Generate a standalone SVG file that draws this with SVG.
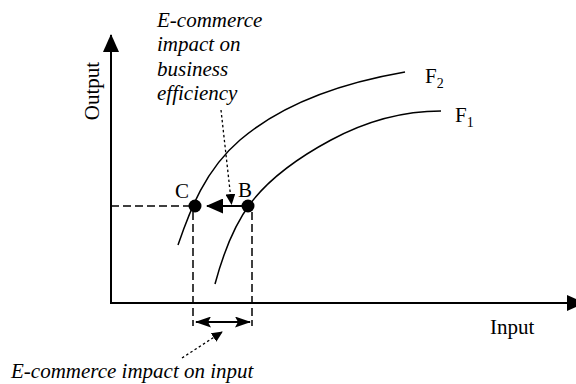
<svg xmlns="http://www.w3.org/2000/svg" width="576" height="384" viewBox="0 0 576 384">
<style>
text{font-family:"Liberation Serif","Times New Roman","DejaVu Serif",serif;font-size:21px;fill:#000}
.it{font-style:italic}
.sub{font-size:14px}
.axis{stroke:#000;stroke-width:2;fill:none}
.curve{stroke:#000;stroke-width:1.5;fill:none}
.dash{stroke:#000;stroke-width:1.5;stroke-dasharray:8,4;fill:none}
.dot{stroke:#000;stroke-width:1.3;stroke-dasharray:2.5,2.5;fill:none}
.solid{stroke:#000;stroke-width:2;fill:none}
</style>
<defs>
<marker id="axisHead" markerUnits="userSpaceOnUse" markerWidth="18" markerHeight="16" viewBox="0 0 18 16" refX="17" refY="8" orient="auto"><path d="M0,0 L18,8 L0,16 z" fill="#000"/></marker>
<marker id="bigHead" markerUnits="userSpaceOnUse" markerWidth="17" markerHeight="15" viewBox="0 0 17 15" refX="16" refY="7.5" orient="auto"><path d="M0,0 L17,7.5 L0,15 z" fill="#000"/></marker>
<marker id="dimHead" markerUnits="userSpaceOnUse" markerWidth="16" markerHeight="11" viewBox="0 0 16 11" refX="15" refY="5.5" orient="auto-start-reverse"><path d="M0,0 L16,5.5 L0,11 L3,5.5 z" fill="#000"/></marker>
<marker id="smallHead" markerUnits="userSpaceOnUse" markerWidth="11" markerHeight="10" viewBox="0 0 11 10" refX="10" refY="5" orient="auto"><path d="M0,0 L11,5 L0,10 z" fill="#000"/></marker>
</defs>
<g id="axes">
<line class="axis" x1="111" y1="303" x2="111" y2="35" marker-end="url(#axisHead)"/>
<line class="axis" x1="110" y1="303" x2="584" y2="303" marker-end="url(#axisHead)"/>
<text transform="translate(99,91) rotate(-90)" text-anchor="middle">Output</text>
<text x="490" y="334">Input</text>
</g>
<g id="F2">
<path class="curve" d="M178,245 C190,210 205,170 240,140 C275,110 330,85 405,72"/>
<text x="425" y="83">F<tspan class="sub" dy="5">2</tspan></text>
</g>
<g id="F1">
<path class="curve" d="M215,284 C222,258 232,228 250,204 C265,184 290,162 331,140 C372,118 410,111 441,111"/>
<text x="455" y="122">F<tspan class="sub" dy="5">1</tspan></text>
</g>
<g id="connectors">
<line class="dash" x1="111" y1="206" x2="189" y2="206"/>
<line class="dash" x1="193" y1="212" x2="193" y2="326"/>
<line class="dash" x1="252" y1="212" x2="252" y2="326"/>
<line class="solid" x1="242" y1="206" x2="207" y2="206" marker-end="url(#bigHead)"/>
<line class="solid" x1="196" y1="322" x2="250" y2="322" marker-start="url(#dimHead)" marker-end="url(#dimHead)"/>
<line class="dot" x1="221" y1="110" x2="231.5" y2="204" marker-end="url(#smallHead)"/>
<line class="dot" x1="182" y1="358" x2="222" y2="332" marker-end="url(#smallHead)"/>
</g>
<g id="C">
<circle cx="195" cy="206" r="6.5" fill="#000"/>
<text x="175" y="198">C</text>
</g>
<g id="B">
<circle cx="248" cy="206" r="6.5" fill="#000"/>
<text x="238" y="197">B</text>
</g>
<g id="labels">
<text class="it" x="157" y="26.5">E-commerce</text>
<text class="it" x="157" y="51">impact on</text>
<text class="it" x="157" y="76">business</text>
<text class="it" x="157" y="100">efficiency</text>
<text class="it" x="11" y="378">E-commerce impact on input</text>
</g>
</svg>
